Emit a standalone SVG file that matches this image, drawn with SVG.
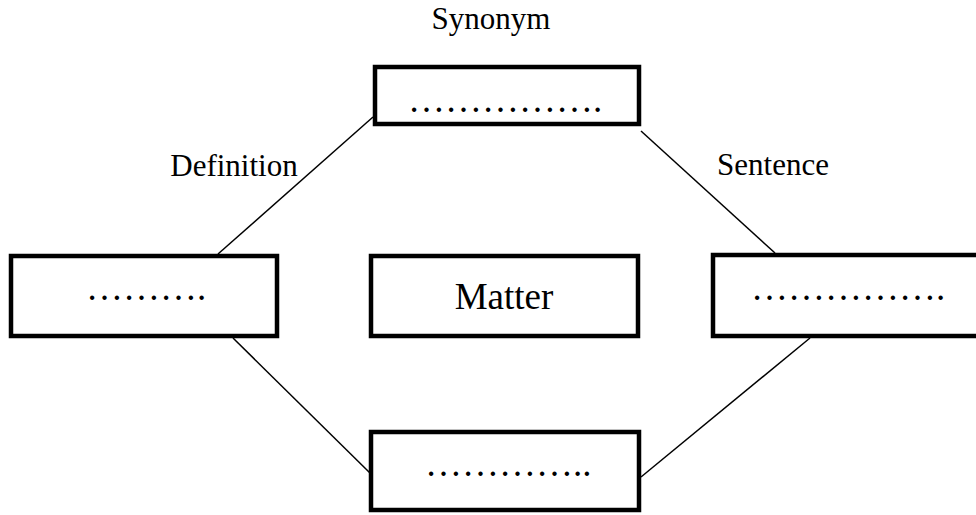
<svg xmlns="http://www.w3.org/2000/svg" width="976" height="515" viewBox="0 0 976 515">
<style>
.box{fill:#fff;stroke:#000;stroke-width:4.5}
.t{font-family:"Liberation Serif","Times New Roman",serif;fill:#000}
.big{font-size:37px}
.lbl{font-size:31px}
.c{stroke:#000;stroke-width:1.5;fill:none}
</style>
<rect width="976" height="515" fill="#fff"/>
<g id="connectors">
<line class="c" x1="218" y1="254" x2="373" y2="117"/>
<line class="c" x1="641" y1="131" x2="775" y2="253"/>
<line class="c" x1="233" y1="338" x2="370" y2="473"/>
<line class="c" x1="641" y1="477" x2="810" y2="338"/>
</g>
<g id="top">
<rect class="box" x="375" y="67" width="264" height="57"/>
<text class="t big" x="408" y="112">&#8230;&#8230;&#8230;&#8230;&#8230;.</text>
</g>
<g id="left">
<rect class="box" x="11" y="256" width="266" height="80"/>
<text class="t big" x="86" y="300">&#8230;&#8230;&#8230;.</text>
</g>
<g id="center">
<rect class="box" x="371" y="256" width="267" height="80"/>
<text class="t big" x="504" y="309" text-anchor="middle">Matter</text>
</g>
<g id="right">
<rect class="box" x="713" y="255" width="268" height="81"/>
<text class="t big" x="751" y="300">&#8230;&#8230;&#8230;&#8230;&#8230;.</text>
</g>
<g id="bottom">
<rect class="box" x="371" y="432" width="268" height="78"/>
<text class="t big" x="425" y="476">&#8230;&#8230;&#8230;&#8230;..</text>
</g>
<g id="labels">
<text class="t lbl" x="491" y="29" text-anchor="middle">Synonym</text>
<text class="t lbl" x="234" y="176" text-anchor="middle">Definition</text>
<text class="t lbl" x="773" y="175" text-anchor="middle">Sentence</text>
</g>
</svg>
